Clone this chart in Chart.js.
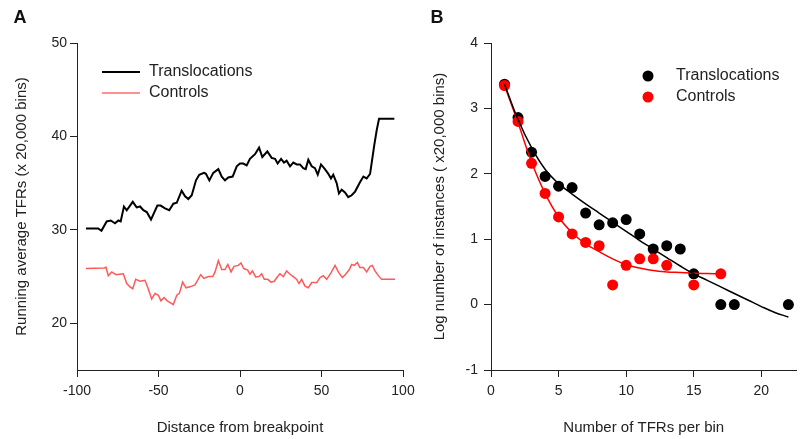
<!DOCTYPE html>
<html>
<head>
<meta charset="utf-8">
<script src="https://cdn.jsdelivr.net/npm/chart.js@4.4.1/dist/chart.umd.min.js"></script>
<style>
  html, body { margin: 0; padding: 0; background: #fff; }
  #wrap { position: relative; width: 802px; height: 439px; }
  #wrap canvas { position: absolute; left: 0; top: 0; }
</style>
</head>
<body>
<div id="wrap">
  <canvas id="chartA" width="802" height="439"></canvas>
  <canvas id="chartB" width="802" height="439"></canvas>
</div>
<script>
// --- PANEL A DATA (running average vs distance) ---
const transX = [-94.5, -87, -85, -81.8, -79.3, -76.7, -74.6, -73.2, -71.2, -69.5, -65.8, -63.4, -61.3, -59.3, -57.2, -54.6,
  -50.7, -48.7, -46, -43.4, -40.9, -38.8, -35.8, -33.7, -31.7, -29.6, -27, -25, -22.1, -20.9, -18.8, -16.4, -13.3, -11.2,
  -9.2, -7.2, -4.5, -2, 0, 2, 4.1, 6.1, 9.2, 11.7, 13.7, 16.8, 19.4, 21.5, 23.1, 25.2, 27, 28.6, 30.7, 32.7, 34.8, 36.8,
  38.8, 40.3, 41.9, 44, 46, 47.7, 49.7, 52.1, 54.2, 55.8, 57.2, 59.3, 60.7, 62.4, 64.4, 66.4, 68.5, 70.6, 73.6, 75.7,
  77.7, 79.8, 82.4, 83.9, 85.3, 94.7];
const transY = [30.15, 30.15, 29.9, 30.9, 31.0, 30.7, 31.0, 30.9, 32.5, 32.1, 33.0, 32.4, 32.5, 32.1, 31.9, 31.1,
  32.6, 32.6, 32.3, 32.1, 32.8, 32.9, 34.2, 33.6, 33.3, 33.7, 35.3, 35.9, 36.1, 36.0, 35.3, 36.1, 36.5, 35.7,
  35.3, 35.6, 35.7, 36.8, 37.1, 37.1, 36.9, 37.6, 38.1, 38.8, 37.8, 38.4, 37.7, 37.6, 37.1, 37.6, 37.2, 37.4, 36.8, 37.2, 37.0, 37.0,
  36.6, 36.5, 37.5, 36.8, 36.6, 35.9, 37.0, 36.5, 36.0, 35.5, 35.9, 35.0, 33.9, 34.3, 34.0, 33.5, 33.7, 34.1, 35.1, 35.7,
  35.5, 36.0, 39.1, 40.7, 41.9, 41.9];

const ctrlX = [-94.5, -83.4, -82.2, -80.8, -78.7, -76.1, -74, -71.6, -69.5, -67.5, -65.8, -64, -61.3, -58.3, -56.3, -54.2,
  -52.1, -50.1, -48.5, -46.6, -44.6, -40.9, -38.8, -37.2, -35.2, -33.1, -30.7, -27.6, -24.1, -22.1, -19.4, -16.7, -15.3,
  -13.3, -11.2, -9.2, -7.5, -5.5, -3.7, -1, 0.6, 2.3, 4.7, 6.1, 7.6, 9.6, 11.7, 13.3, 14.9, 17, 19, 21, 23.1, 24.5, 26.6,
  28.6, 30.7, 32.7, 34.8, 36.2, 37.8, 39.9, 41.9, 44, 47.1, 49.1, 51.1, 53.2, 55.8, 58.3, 60.3, 62.8, 64.8, 67.1, 68.5,
  70.1, 72, 73.6, 75.7, 77.7, 79.8, 81.2, 82.8, 84.9, 86.9, 95.1];
const ctrlY = [25.86, 25.93, 26.0, 25.1, 25.5, 25.2, 25.25, 25.3, 24.25, 23.9, 23.7, 24.7, 24.5, 24.6, 23.7, 22.6,
  23.2, 23.0, 22.4, 22.75, 22.4, 22.0, 23.0, 23.2, 24.4, 23.8, 23.9, 24.1, 25.2, 24.8, 25.0, 25.0, 25.5,
  26.7, 25.75, 25.75, 26.3, 25.5, 26.1, 26.2, 26.45, 25.86, 25.7, 25.25, 25.6, 24.96, 25.0, 25.3, 24.7, 24.7, 24.4, 24.5, 25.0, 25.3, 25.0,
  25.6, 25.25, 25.0, 24.7, 24.25, 24.7, 23.97, 23.8, 24.36, 24.36, 24.9, 25.1, 24.7, 25.4, 26.2, 25.5, 24.9, 25.25, 25.75, 26.3,
  26.2, 26.5, 25.96, 25.96, 25.5, 26.1, 26.2, 25.6, 25.1, 24.7, 24.7];

const aXTicks = [-100, -50, 0, 50, 100];
const aYTicks = [20, 30, 40, 50];

// --- PANEL B DATA (log instances vs TFRs per bin) ---
const transBinX = [1, 2, 3, 4, 5, 6, 7, 8, 9, 10, 11, 12, 13, 14, 15, 17, 18, 22];
const transBinY = [3.37, 2.86, 2.33, 1.96, 1.81, 1.79, 1.40, 1.22, 1.25, 1.30, 1.08, 0.85, 0.90, 0.85, 0.47, 0, 0, 0];
const ctrlBinX = [1, 2, 3, 4, 5, 6, 7, 8, 9, 10, 11, 12, 13, 15, 17];
const ctrlBinY = [3.35, 2.80, 2.16, 1.70, 1.34, 1.08, 0.95, 0.90, 0.30, 0.60, 0.70, 0.70, 0.60, 0.30, 0.47];

// fitted curves
const transFitX = [1, 2, 3, 4, 5, 6, 7, 8, 9, 10, 11, 12, 13, 14, 15, 16, 17, 18, 19, 20, 21, 22];
const transFitY = [3.37, 2.83, 2.40, 2.07, 1.85, 1.69, 1.54, 1.40, 1.26, 1.12, 0.98, 0.85, 0.72, 0.59, 0.47, 0.37, 0.27, 0.17, 0.07, -0.03, -0.12, -0.19];
const ctrlFitX = [1, 2, 3, 4, 5, 6, 7, 8, 9, 10, 11, 12, 13, 14, 15, 16, 17];
const ctrlFitY = [3.35, 2.78, 2.18, 1.70, 1.34, 1.10, 0.93, 0.81, 0.70, 0.61, 0.56, 0.52, 0.50, 0.49, 0.48, 0.475, 0.47];

const bXTicks = [0, 5, 10, 15, 20];
const bYTicks = [-1, 0, 1, 2, 3, 4];

// --- COMMON ---
const FONT = '"Liberation Sans", Arial, sans-serif';
Chart.defaults.font.family = FONT;
Chart.defaults.color = '#222';
Chart.defaults.animation = false;

const toPts = (xs, ys) => xs.map((x, i) => ({ x: x, y: ys[i] }));
const fixedTicks = (vals) => (scale) => { scale.ticks = vals.map(v => ({ value: v })); };

// custom legend + panel letter
const panelDecor = {
    id: 'panelDecor',
    afterDraw(chart, args, opts) {
        const ctx = chart.ctx;
        ctx.save();
        ctx.font = 'bold 18px ' + FONT;
        ctx.fillStyle = '#111';
        ctx.textAlign = 'center';
        ctx.textBaseline = 'middle';
        ctx.fillText(opts.letter, opts.letterX, opts.letterY);

        ctx.font = '16px ' + FONT;
        ctx.textAlign = 'left';
        ctx.fillStyle = '#222';
        opts.items.forEach(it => {
            if (it.kind === 'line') {
                ctx.strokeStyle = it.color;
                ctx.lineWidth = it.width;
                ctx.beginPath();
                ctx.moveTo(opts.symX, it.y);
                ctx.lineTo(opts.symX + 38, it.y);
                ctx.stroke();
            } else {
                ctx.fillStyle = it.color;
                ctx.beginPath();
                ctx.arc(opts.symX, it.y, 5.5, 0, Math.PI * 2);
                ctx.fill();
            }
            ctx.fillStyle = '#222';
            ctx.fillText(it.label, opts.textX, it.y);
        });
        ctx.restore();
    }
};

function axisOpts(extra) {
    return Object.assign({
        type: 'linear',
        grid: { drawOnChartArea: false, drawTicks: true, tickLength: 7, tickColor: '#222', tickWidth: 1 },
        border: { display: true, color: '#222', width: 1 },
        ticks: { font: { size: 14 }, color: '#222' }
    }, extra);
}

// --- PANEL A ---
new Chart(document.getElementById('chartA'), {
    type: 'scatter',
    data: {
        datasets: [
            { label: 'Translocations', data: toPts(transX, transY), showLine: true, borderColor: '#000',
              borderWidth: 2, pointRadius: 0, tension: 0 },
            { label: 'Controls', data: toPts(ctrlX, ctrlY), showLine: true, borderColor: '#ff5a5a',
              borderWidth: 1.5, pointRadius: 0, tension: 0 }
        ]
    },
    options: {
        responsive: false,
        layout: { padding: { left: 0, top: 43, right: 399, bottom: 0 } },
        plugins: {
            legend: { display: false },
            tooltip: { enabled: false },
            panelDecor: {
                letter: 'A', letterX: 20, letterY: 18, symX: 102, textX: 149,
                items: [
                    { kind: 'line', label: 'Translocations', color: '#000', width: 2, y: 72 },
                    { kind: 'line', label: 'Controls', color: '#ff6b6b', width: 1.5, y: 93 }
                ]
            }
        },
        scales: {
            x: axisOpts({
                min: -100, max: 100,
                afterBuildTicks: fixedTicks(aXTicks),
                afterFit: (s) => { s.height = 69; },
                ticks: { font: { size: 14 }, color: '#222', padding: 6, maxRotation: 0 },
                title: { display: true, text: 'Distance from breakpoint', font: { size: 15 }, color: '#222', padding: { top: 0, bottom: 2 } }
            }),
            y: axisOpts({
                min: 15, max: 50,
                afterBuildTicks: fixedTicks(aYTicks),
                afterFit: (s) => { s.width = 77; },
                ticks: { font: { size: 14 }, color: '#222', padding: 3 },
                title: { display: true, text: 'Running average TFRs (x 20,000 bins)', font: { size: 15 }, color: '#222', padding: { top: 13, bottom: 0 } }
            })
        }
    },
    plugins: [panelDecor]
});

// --- PANEL B ---
new Chart(document.getElementById('chartB'), {
    type: 'scatter',
    data: {
        datasets: [
            { label: 'Translocations fit', data: toPts(transFitX, transFitY), showLine: true, borderColor: '#000',
              borderWidth: 1.5, pointRadius: 0, tension: 0.4 },
            { label: 'Controls fit', data: toPts(ctrlFitX, ctrlFitY), showLine: true, borderColor: '#ff0000',
              borderWidth: 1.5, pointRadius: 0, tension: 0.4 },
            { label: 'Controls', data: toPts(ctrlBinX, ctrlBinY), backgroundColor: '#ff0000', borderWidth: 0,
              pointRadius: 5.5 },
            { label: 'Translocations', data: toPts(transBinX, transBinY), backgroundColor: '#000', borderWidth: 0,
              pointRadius: 5.5 }
        ]
    },
    options: {
        responsive: false,
        layout: { padding: { left: 411, top: 43, right: 2, bottom: 0 } },
        plugins: {
            legend: { display: false },
            tooltip: { enabled: false },
            panelDecor: {
                letter: 'B', letterX: 437, letterY: 18, symX: 648, textX: 676,
                items: [
                    { kind: 'dot', label: 'Translocations', color: '#000', y: 76 },
                    { kind: 'dot', label: 'Controls', color: '#ff0000', y: 97 }
                ]
            }
        },
        scales: {
            x: axisOpts({
                min: 0, max: 22.6,
                afterBuildTicks: fixedTicks(bXTicks),
                afterFit: (s) => { s.height = 69; },
                ticks: { font: { size: 14 }, color: '#222', padding: 6, maxRotation: 0 },
                title: { display: true, text: 'Number of TFRs per bin', font: { size: 15 }, color: '#222', padding: { top: 0, bottom: 2 } }
            }),
            y: axisOpts({
                min: -1, max: 4,
                afterBuildTicks: fixedTicks(bYTicks),
                afterFit: (s) => { s.width = 80; },
                ticks: { font: { size: 14 }, color: '#222', padding: 6 },
                title: { display: true, text: 'Log number of instances ( x20,000 bins)', font: { size: 15 }, color: '#222', padding: { top: 20, bottom: 0 } }
            })
        }
    },
    plugins: [panelDecor]
});
</script>
</body>
</html>
